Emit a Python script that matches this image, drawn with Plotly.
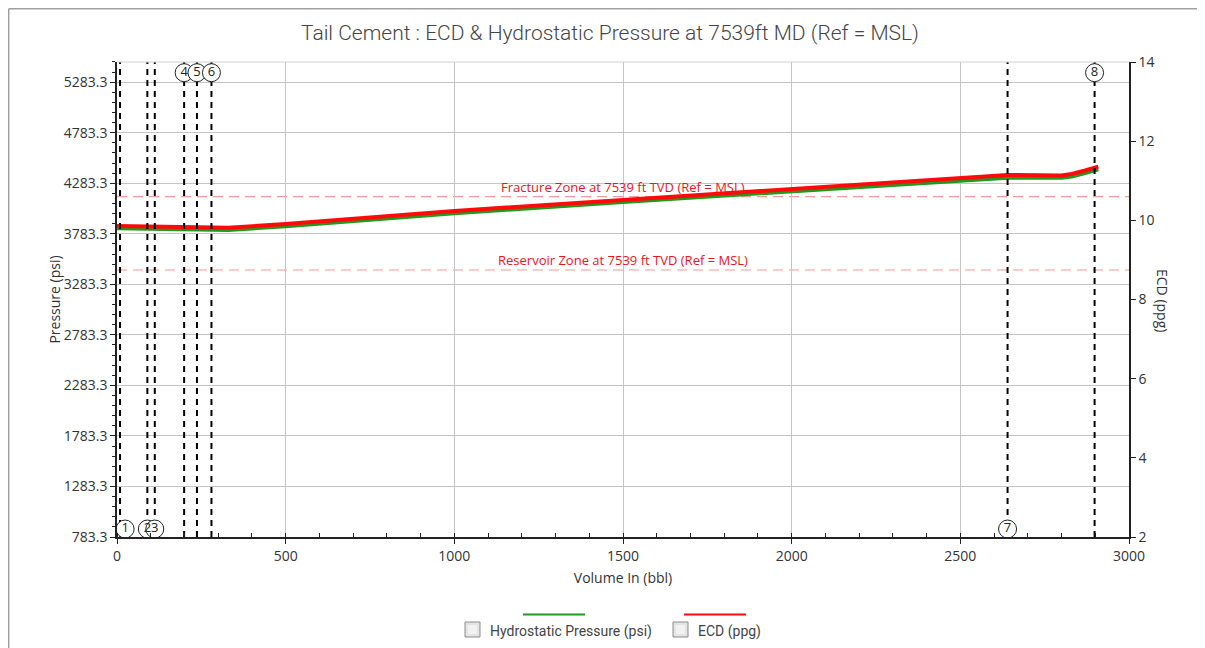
import plotly.graph_objects as go

# ---------------- data ----------------
volume_bbl = [0, 110, 280, 330, 500, 1000, 1500, 2000, 2500, 2640, 2800, 2830, 2870, 2909]
hydrostatic_psi = [3837.6, 3830.7, 3823.8, 3820.8, 3857.4, 3986.0, 4097.8, 4203.6, 4315.5,
                   4338.2, 4337.2, 4350.1, 4384.7, 4421.3]
ecd_ppg = [9.857, 9.837, 9.819, 9.814, 9.907, 10.236, 10.514, 10.784, 11.069,
           11.145, 11.133, 11.170, 11.259, 11.355]

event_volume = [9, 90, 112, 199, 237, 280, 2640, 2898]
event_label = ["1", "2", "3", "4", "5", "6", "7", "8"]
event_label_top = [False, False, False, True, True, True, False, True]

zone_names = ["Fracture Zone at 7539 ft TVD (Ref = MSL)", "Reservoir Zone at 7539 ft TVD (Ref = MSL)"]
zone_psi = [4150.3, 3425.0]

p_min, p_max, p_step = 783.3, 5483.1, 500
ecd_min, ecd_max = 2, 14
vol_min, vol_max = 0, 3000

title = "Tail Cement : ECD & Hydrostatic Pressure at 7539ft MD (Ref = MSL)"
legend_names = ["Hydrostatic Pressure (psi)", "ECD (ppg)"]

# ---------------- layout helpers ----------------
OFF = 8                      # page body margin
PAGE_W, PAGE_H = 1205, 648
W, H = PAGE_W - OFF, PAGE_H - OFF
L, R, T, B = 117, 1129, 62, 537   # plot area in page pixels


def px2x(px):
    return (px - L) / (R - L)


def py2y(py):
    return (B - py) / (B - T)


GREEN = "#1f9a1f"
RED = "#ff0a0a"
FONT = "Open Sans"

fig = go.Figure()

fig.add_trace(go.Scatter(x=volume_bbl, y=hydrostatic_psi, mode="lines", name=legend_names[0],
                         line=dict(color=GREEN, width=4), yaxis="y", showlegend=False))
fig.add_trace(go.Scatter(x=volume_bbl, y=ecd_ppg, mode="lines", name=legend_names[1],
                         line=dict(color=RED, width=4), yaxis="y2", showlegend=False))

# event dashed lines (on hidden 0..1 overlay axis)
for v in event_volume:
    fig.add_trace(go.Scatter(x=[v, v], y=[0, 1], mode="lines", yaxis="y3", showlegend=False,
                             hoverinfo="skip",
                             line=dict(color="black", width=2, dash="6px,5px")))

# event circles
label_x = [max(v, 24) for v in event_volume]
label_y = [0.9775 if top else 0.0168 for top in event_label_top]
fig.add_trace(go.Scatter(x=label_x, y=label_y, mode="markers+text", yaxis="y3", showlegend=False,
                         text=event_label, textposition="middle center",
                         textfont=dict(family=FONT, size=13, color="#222"),
                         marker=dict(symbol="circle", size=18, color="white",
                                     line=dict(color="#222", width=1)),
                         hoverinfo="skip"))

shapes = []
annotations = []

# zone lines + labels
for name, p in zip(zone_names, zone_psi):
    shapes.append(dict(type="line", xref="paper", yref="y", x0=0, x1=1, y0=p, y1=p,
                       line=dict(color="#f39a9a", width=1.2, dash="10px,6px"), layer="between"))
    annotations.append(dict(x=1500, y=p, xref="x", yref="y", text=name, showarrow=False,
                            yanchor="bottom", yshift=-1,
                            font=dict(family=FONT, size=13, color="#e8141e")))

# top border line of plot area
shapes.append(dict(type="line", xref="paper", yref="paper", x0=0, x1=1, y0=1, y1=1,
                   line=dict(color="#d0d0d0", width=1)))

# outer frame (top and left)
shapes.append(dict(type="line", xref="paper", yref="paper", x0=px2x(8.7), x1=px2x(PAGE_W + 5),
                   y0=py2y(8.7), y1=py2y(8.7), line=dict(color="#a0a0a0", width=1.5)))
shapes.append(dict(type="line", xref="paper", yref="paper", x0=px2x(8.7), x1=px2x(8.7),
                   y0=py2y(8.7), y1=py2y(PAGE_H + 5), line=dict(color="#a0a0a0", width=1.5)))

# custom legend
legend_items = [
    dict(box=(465, 622), line=(523, 585), color=GREEN, text_x=488),
    dict(box=(673, 622), line=(684, 746), color=RED, text_x=696),
]
for item, name in zip(legend_items, legend_names):
    bx, by = item["box"]
    shapes.append(dict(type="rect", xref="paper", yref="paper",
                       x0=px2x(bx), x1=px2x(bx + 15), y0=py2y(by), y1=py2y(by + 15),
                       line=dict(color="#8c8c8c", width=1), fillcolor="#e4e4e4"))
    shapes.append(dict(type="rect", xref="paper", yref="paper",
                       x0=px2x(bx + 3), x1=px2x(bx + 12), y0=py2y(by + 3), y1=py2y(by + 12),
                       line=dict(width=0), fillcolor="#f2f2f2"))
    lx0, lx1 = item["line"]
    shapes.append(dict(type="line", xref="paper", yref="paper",
                       x0=px2x(lx0), x1=px2x(lx1), y0=py2y(614.5), y1=py2y(614.5),
                       line=dict(color=item["color"], width=2)))
    annotations.append(dict(x=px2x(item["text_x"]), y=py2y(631), xref="paper", yref="paper",
                            text=name, showarrow=False, xanchor="left", yanchor="middle",
                            font=dict(family="Roboto", size=14, color="#444")))

# right axis title (rotated clockwise)
annotations.append(dict(x=px2x(1163), y=py2y(300), xref="paper", yref="paper",
                        text="ECD (ppg)", showarrow=False, textangle=90,
                        xanchor="center", yanchor="middle",
                        font=dict(family=FONT, size=14, color="#333")))

tickfont = dict(family=FONT, size=14, color="#333")
p_ticks = []
t = p_min
while t <= p_max + 1e-6:
    p_ticks.append(round(t, 1))
    t += p_step

fig.update_layout(
    width=W, height=H,
    margin=dict(l=L - OFF, r=PAGE_W - R, t=T - OFF, b=PAGE_H - B),
    paper_bgcolor="white", plot_bgcolor="white",
    title=dict(text=title, x=(610 - OFF) / W, xref="container", xanchor="center",
               y=1 - (33 - OFF) / H, yref="container", yanchor="middle",
               font=dict(family="Roboto", size=21, color="#454545", weight=300)),
    xaxis=dict(range=[vol_min, vol_max], dtick=500, tick0=0,
               showgrid=True, gridcolor="#c4c4c4", gridwidth=1,
               showline=True, linecolor="#222", linewidth=1.5,
               ticks="outside", ticklen=5, tickcolor="#222", zeroline=False,
               minor=dict(dtick=100, ticks="inside", ticklen=4, tickcolor="#222", showgrid=False),
               tickfont=tickfont,
               title=dict(text="Volume In (bbl)", standoff=10,
                          font=dict(family=FONT, size=14, color="#333"))),
    yaxis=dict(range=[p_min, p_max], tickvals=p_ticks, tickformat=".1f",
               showgrid=True, gridcolor="#c4c4c4", gridwidth=1,
               showline=True, linecolor="#222", linewidth=1.5,
               ticks="outside", ticklen=5, tickcolor="#222", zeroline=False,
               minor=dict(dtick=100, tick0=p_min, ticks="outside", ticklen=3, tickcolor="#222",
                          showgrid=False),
               tickfont=tickfont,
               title=dict(text="Pressure (psi)", standoff=0,
                          font=dict(family=FONT, size=14, color="#333"))),
    yaxis2=dict(range=[ecd_min, ecd_max], dtick=2, tick0=2, overlaying="y", side="right",
                showgrid=False, showline=True, linecolor="#222", linewidth=1.5,
                ticks="outside", ticklen=5, tickcolor="#222", zeroline=False,
                tickfont=dict(family=FONT, size=14, color="#333")),
    yaxis3=dict(range=[0, 1], overlaying="y", visible=False, showgrid=False),
    shapes=shapes,
    annotations=annotations,
    showlegend=False,
)

fig.write_html("out.html")
